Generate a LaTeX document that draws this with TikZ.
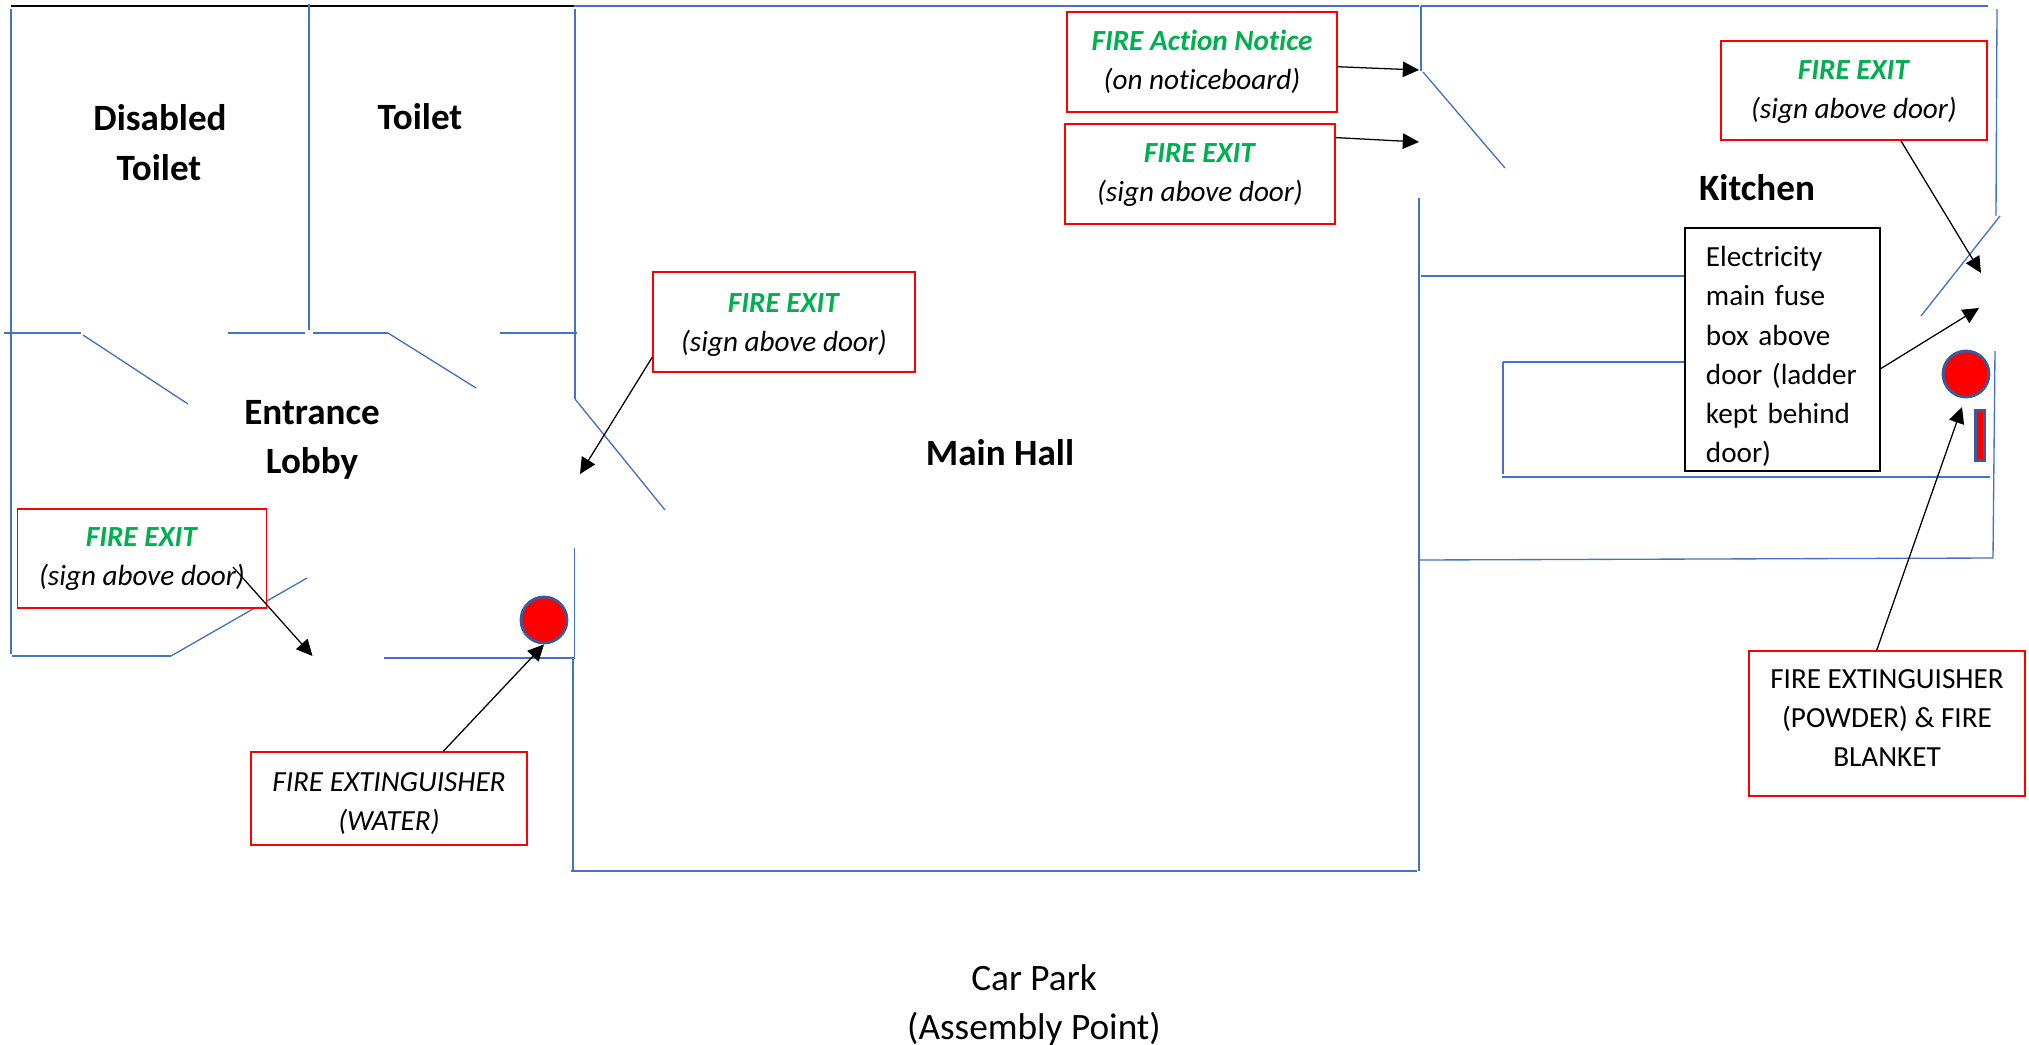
\documentclass[tikz,border=0pt]{standalone}
\usepackage{fontspec}
\setmainfont{Carlito}[Ligatures=NoCommon]
\usetikzlibrary{arrows.meta}
\definecolor{wallblue}{HTML}{4472C4}
\definecolor{signgreen}{HTML}{00B050}
\newcommand{\firesign}[3][5pt]{\rule{0pt}{#1}\textcolor{signgreen}{\textbf{\textit{#2}}}\\\textit{#3}}
\begin{document}
\begin{tikzpicture}[x=0.01cm, y=-0.01cm,
  wall/.style={wallblue, line width=0.6pt},
  doorleaf/.style={wallblue, line width=0.38pt},
  pointer/.style={-{Triangle[length=4.6pt, width=4.4pt]}, black, line width=0.36pt},
  room/.style={font=\fontsize{10.55}{14.2}\selectfont\bfseries, align=center, inner sep=0pt},
  redbox/.style={draw=red, fill=white, line width=0.42pt, align=center, inner sep=0pt,
    font=\fontsize{8.3}{11.1}\selectfont},
  extinguisher/.style={circle, draw=wallblue!80!black, fill=red, line width=0.8pt, minimum size=0.46cm, inner sep=0pt}]
\useasboundingbox (0, 0) rectangle (2029, 1045);

\draw [black, line width=0.6pt] (11, 6) to (574, 6);
\draw [wall] (574, 6) to (1419, 6);
\draw [wall] (1421, 6) to (1988, 6);
\draw [wall] (11, 9) to (11, 654);
\draw [wall] (309, 4) to (309, 330);
\draw [wall] (4, 333) to (81, 333);
\draw [wall] (228, 333) to (305, 333);
\draw [wall] (313, 333) to (388, 333);
\draw [wall] (500, 333) to (577, 333);
\draw [wall] (575, 9) to (575, 399);
\draw [wall] (12, 656) to (171, 656);
\draw [wall] (384, 658) to (575, 658);
\draw [wall] (573, 658) to (573, 871);
\draw [wall] (571, 871) to (1417, 871);
\draw [wall] (1421, 6) to (1421, 71);
\draw [wall] (1419, 198) to (1419, 871);
\draw [wall] (1421, 276) to (1685, 276);
\draw [wall] (1503, 362) to (1685, 362);
\draw [wall] (1503, 362) to (1503, 474);
\draw [wall] (1502, 477) to (1990, 477);

\draw [doorleaf] (83, 335) to (188, 404);
\draw [doorleaf] (388, 333) to (476, 388);
\draw [doorleaf] (575, 399) to (665, 510);
\draw [doorleaf] (171, 656) to (307, 578);
\draw [doorleaf] (574.5, 548) to (574.5, 658);
\draw [doorleaf] (1423, 72) to (1505, 168);
\draw [doorleaf] (1997, 9) to (1996, 216);
\draw [doorleaf] (2000, 216) to (1921, 316);
\draw [doorleaf] (1995, 351) to (1993, 558);
\draw [doorleaf] (1419, 560) to (1993, 558);

\node [room] (disabled) at (160, 118) {Disabled};
\node [room] (disabledb) at (159, 168) {Toilet};
\node [room] (toilet) at (420, 117) {Toilet};
\node [room] (entrance) at (312, 413) {Entrance};
\node [room] (lobby) at (312, 463) {Lobby};
\node [room] (hall) at (1000, 453) {Main Hall};
\node [room] (kitchen) at (1757, 188) {Kitchen};
\node [inner sep=0pt, align=center, font=\fontsize{10.6}{13.8}\selectfont] (carpark) at (1034, 1005) {Car Park\\(Assembly Point)};

\node [redbox, minimum width=2.70cm, minimum height=1cm] (noticebox) at (1202, 62)
  {\firesign{FIRE Action Notice}{(on noticeboard)}};
\node [redbox, minimum width=2.70cm, minimum height=1cm] (exitbackbox) at (1200, 174)
  {\firesign[6.2pt]{FIRE EXIT}{(sign above door)}};
\node [redbox, minimum width=2.62cm, minimum height=1cm] (exithallbox) at (784, 322)
  {\firesign[6.9pt]{FIRE EXIT}{(sign above door)}};
\node [redbox, minimum width=2.485cm, minimum height=0.99cm] (exitlobbybox) at (142, 558.5)
  {\firesign[5.8pt]{FIRE EXIT}{(sign above door)}};
\node [redbox, minimum width=2.66cm, minimum height=0.99cm] (exitkitchenbox) at (1854, 90.5)
  {\firesign[6.2pt]{FIRE EXIT}{(sign above door)}};
\node [redbox, minimum width=2.76cm, minimum height=0.93cm] (waterbox) at (389, 798.5)
  {\rule{0pt}{8.3pt}\textit{FIRE EXTINGUISHER}\\\textit{(WATER)}};
\node [redbox, minimum width=2.76cm, minimum height=1.45cm] (powderbox) at (1887, 723.5)
  {FIRE EXTINGUISHER\\(POWDER) \& FIRE\\BLANKET\rule[-3pt]{0pt}{3pt}};
\node [draw=black, fill=white, line width=0.42pt, align=left, inner xsep=0.21cm, inner ysep=0pt,
  text width=1.53cm, minimum height=2.43cm, font=\fontsize{8.3}{11.1}\selectfont] (fusebox) at (1782.5, 349.5)
  {\rule{0pt}{9.7pt}Electricity\\main fuse\\box above\\door (ladder\\kept behind\\door)};

\node [extinguisher] (waterext) at (544, 620) {};
\node [extinguisher] (powderext) at (1966, 374) {};
\node [draw=wallblue!80!black, fill=red, line width=0.7pt, minimum width=0.09cm, minimum height=0.5cm, inner sep=0pt] (blanket) at (1980, 435.5) {};

\coordinate (noticemark) at (1419, 70);
\coordinate (exitbackmark) at (1419, 142);
\coordinate (exithallmark) at (580, 474);
\coordinate (lobbystart) at (233, 567);
\coordinate (exitlobbymark) at (312.5, 656);
\coordinate (exitkitchenmark) at (1981, 273);
\coordinate (fusemark) at (1979, 308);
\coordinate (powdermark) at (1962, 407);

\draw [pointer] (noticebox.-2) to (noticemark);
\draw [pointer] (exitbackbox.15) to (exitbackmark);
\draw [pointer] (exithallbox.195) to (exithallmark);
\draw [pointer] (lobbystart) to (exitlobbymark);
\draw [pointer] (waterbox.41) to (waterext.south);
\draw [pointer] (exitkitchenbox.-47) to (exitkitchenmark);
\draw [pointer] (fusebox.-11) to (fusemark);
\draw [pointer] (powderbox.98) to (powdermark);
\end{tikzpicture}
\end{document}
